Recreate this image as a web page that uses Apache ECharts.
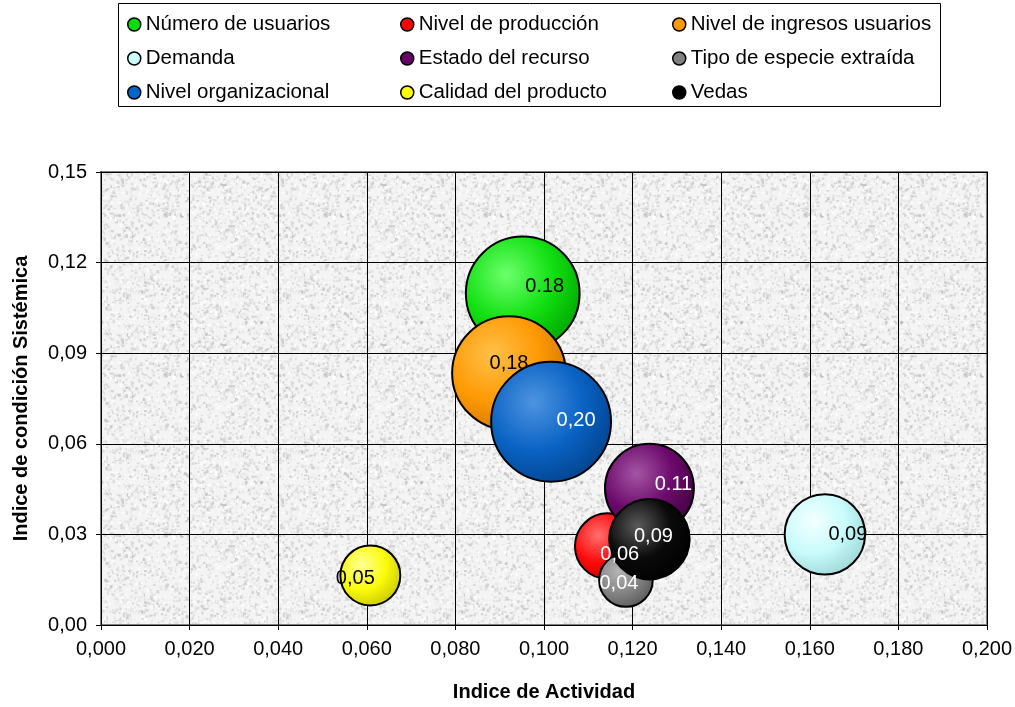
<!DOCTYPE html>
<html>
<head>
<meta charset="utf-8">
<title>Indice de Actividad vs Indice de condición Sistémica</title>
<script src="https://cdn.jsdelivr.net/npm/echarts@6/dist/echarts.min.js"></script>
<style>
  html, body { margin: 0; padding: 0; background: #ffffff; }
  #chart { width: 1015px; height: 707px; }
</style>
</head>
<body>
<div id="chart"></div>
<script>
// Series (one bubble each), in legend order (row by row)
const names = [
  'Número de usuarios', 'Nivel de producción', 'Nivel de ingresos usuarios',
  'Demanda', 'Estado del recurso', 'Tipo de especie extraída',
  'Nivel organizacional', 'Calidad del producto', 'Vedas'
];
// Indice de Actividad (x)
const actividad = [0.0952, 0.1144, 0.0921, 0.1634, 0.1238, 0.1185, 0.1016, 0.0608, 0.1238];
// Indice de condición Sistémica (y)
const condicion = [0.1098, 0.0261, 0.0834, 0.0300, 0.0453, 0.0149, 0.0673, 0.0164, 0.0284];
// Bubble size value
const tamano = [0.18, 0.06, 0.18, 0.09, 0.11, 0.04, 0.20, 0.05, 0.09];
// Data labels as printed on each bubble
const etiquetas = ['0.18', '0,06', '0,18', '0,09', '0.11', '0,04', '0,20', '0,05', '0,09'];

// Axis ranges
const xMin = 0, xMax = 0.2, xStep = 0.02;
const yMin = 0, yMax = 0.15, yStep = 0.03;

// ---- styling ----
const FONT = '"Liberation Sans", Arial, sans-serif';
// [highlight, base, edge] for the sphere shading
const shades = [
  ['#6dff6d', '#12e012', '#00a800'],
  ['#ff7070', '#ff0a0a', '#c00000'],
  ['#ffc04a', '#ff9a05', '#cf7400'],
  ['#f4ffff', '#c8fbfb', '#9ed6d6'],
  ['#a455a4', '#6c0a6c', '#440044'],
  ['#b4b4b4', '#858585', '#5a5a5a'],
  ['#4d94e0', '#0a63c4', '#02438e'],
  ['#ffff9a', '#fbfb0a', '#c8c800'],
  ['#5a5a5a', '#0a0a0a', '#000000']
];
const legendColors = ['#00e000', '#ff0000', '#ff9900', '#ccffff', '#660066', '#808080', '#0066cc', '#ffff00', '#000000'];
const labelColors = ['#000', '#fff', '#000', '#000', '#fff', '#fff', '#fff', '#000', '#fff'];
const labelOffsets = [[22, -7], [12, 8], [0, -10], [23, 0], [24, -4], [-7, 3], [25, -1], [-15, 3], [4, -3]];
// labels drawn above every bubble
const topLabels = [1, 5];

function sphere(s) {
  return new echarts.graphic.RadialGradient(0.36, 0.34, 0.72, [
    { offset: 0, color: s[0] },
    { offset: 0.55, color: s[1] },
    { offset: 1, color: s[2] }
  ]);
}
const bubbleDiameter = v => 268 * Math.sqrt(v);

// Granite-like plot background
function makeTexture() {
  const size = 160;
  const c = document.createElement('canvas');
  c.width = size; c.height = size;
  const ctx = c.getContext('2d');
  ctx.fillStyle = '#f4f4f4';
  ctx.fillRect(0, 0, size, size);
  let seed = 12345;
  const rnd = () => { seed = (seed * 1103515245 + 12345) & 0x7fffffff; return seed / 0x7fffffff; };
  ctx.filter = 'blur(0.7px)';
  for (let i = 0; i < 1100; i++) {
    const g = 175 + Math.floor(rnd() * 55);
    ctx.fillStyle = 'rgba(' + g + ',' + g + ',' + g + ',' + (0.3 + rnd() * 0.35) + ')';
    const w = 1 + rnd() * 2.2, h = 1 + rnd() * 2.2;
    const x = rnd() * size, y = rnd() * size;
    ctx.fillRect(x, y, w, h);
    ctx.fillRect((x + size / 2) % size, (y + size / 3) % size, h, w);
  }
  for (let i = 0; i < 600; i++) {
    ctx.fillStyle = 'rgba(255,255,255,0.75)';
    ctx.fillRect(rnd() * size, rnd() * size, 1 + rnd() * 2, 1 + rnd() * 2);
  }
  return c;
}

const labelBase = {
  position: 'inside',
  fontFamily: FONT,
  fontSize: 20,
  align: 'center',
  verticalAlign: 'middle',
  opacity: 1,
  textBorderWidth: 0,
  textShadowBlur: 0
};

const series = [];
names.forEach((n, i) => {
  const onTop = topLabels.indexOf(i) >= 0;
  series.push({
    name: n,
    type: 'scatter',
    z: 2 + i,
    symbol: 'circle',
    symbolSize: bubbleDiameter(tamano[i]),
    itemStyle: { color: sphere(shades[i]), borderColor: '#000', borderWidth: 2, opacity: 1 },
    label: Object.assign({}, labelBase, {
      show: !onTop,
      color: labelColors[i],
      offset: labelOffsets[i],
      formatter: () => etiquetas[i]
    }),
    emphasis: { disabled: true },
    silent: true,
    data: [[actividad[i], condicion[i], tamano[i]]]
  });
});
// text-only layer for labels that sit above neighbouring bubbles
topLabels.forEach(i => {
  series.push({
    type: 'scatter',
    z: 30,
    symbol: 'circle',
    symbolSize: 1,
    itemStyle: { color: '#000', opacity: 1, borderWidth: 0 },
    label: Object.assign({}, labelBase, {
      show: true,
      color: labelColors[i],
      offset: labelOffsets[i],
      formatter: () => etiquetas[i]
    }),
    emphasis: { disabled: true },
    silent: true,
    data: [[actividad[i], condicion[i], tamano[i]]]
  });
});

// Legend: three columns, filled row by row
const legendCols = [127, 400, 672];
const legends = legendCols.map((left, c) => ({
  orient: 'vertical',
  left: left,
  top: 14,
  padding: 0,
  itemGap: 13,
  itemWidth: 13,
  itemHeight: 13,
  icon: 'circle',
  selectedMode: false,
  textStyle: { fontFamily: FONT, fontSize: 20.5, color: '#000', lineHeight: 20, padding: [0, 0, 0, 0] },
  data: [c, c + 3, c + 6].map(k => ({
    name: names[k],
    itemStyle: { color: legendColors[k], borderColor: '#000', borderWidth: 1.5 }
  }))
}));

const chart = echarts.init(document.getElementById('chart'), null, { renderer: 'canvas' });
chart.setOption({
  animation: false,
  backgroundColor: '#ffffff',
  graphic: [{
    type: 'rect',
    z: -1,
    shape: { x: 118.5, y: 3.5, width: 822, height: 103 },
    style: { fill: '#fff', stroke: '#000', lineWidth: 1 }
  }],
  legend: legends,
  grid: {
    left: 101, top: 172, right: 24, bottom: 78,
    show: true,
    backgroundColor: { image: makeTexture(), repeat: 'repeat' },
    borderColor: '#808080',
    borderWidth: 2
  },
  xAxis: {
    type: 'value',
    min: xMin, max: xMax, interval: xStep,
    name: 'Indice de Actividad',
    nameLocation: 'middle',
    nameGap: 57,
    nameTextStyle: { fontFamily: FONT, fontSize: 20, fontWeight: 'bold', color: '#000' },
    axisLine: { show: true, onZero: false, lineStyle: { color: '#000', width: 1 } },
    axisTick: { show: true, inside: false, length: 5, lineStyle: { color: '#000' } },
    axisLabel: {
      fontFamily: FONT, fontSize: 20, color: '#000', margin: 14,
      formatter: v => v.toFixed(3).replace('.', ',')
    },
    splitLine: { show: true, lineStyle: { color: '#000', width: 1 } }
  },
  yAxis: {
    type: 'value',
    min: yMin, max: yMax, interval: yStep,
    name: 'Indice de condición Sistémica',
    nameLocation: 'middle',
    nameGap: 70,
    nameTextStyle: { fontFamily: FONT, fontSize: 20, fontWeight: 'bold', color: '#000' },
    axisLine: { show: true, onZero: false, lineStyle: { color: '#000', width: 1 } },
    axisTick: { show: true, inside: false, length: 5, lineStyle: { color: '#000' } },
    axisLabel: {
      fontFamily: FONT, fontSize: 20, color: '#000', margin: 14,
      formatter: v => v.toFixed(2).replace('.', ',')
    },
    splitLine: { show: true, lineStyle: { color: '#000', width: 1 } }
  },
  series: series
});
</script>
</body>
</html>
